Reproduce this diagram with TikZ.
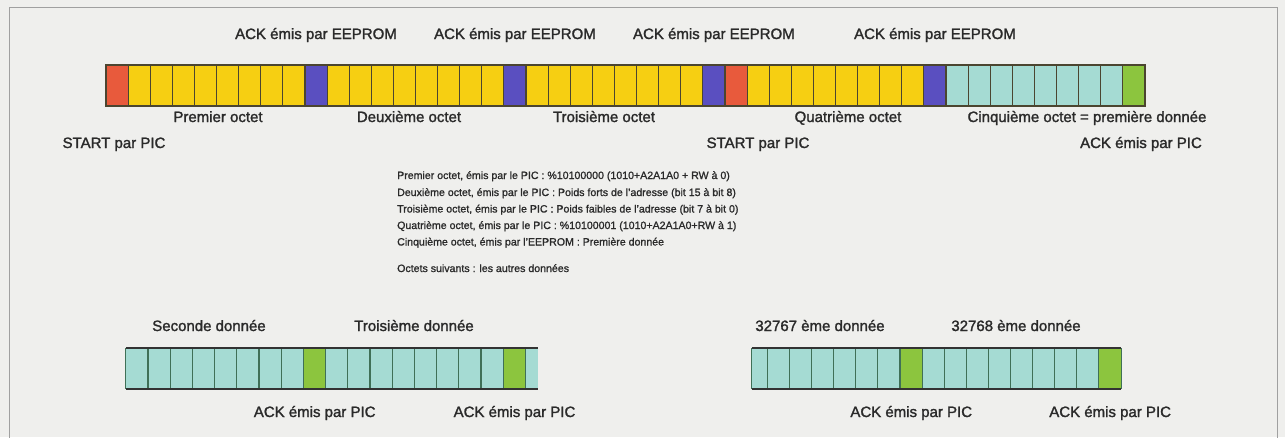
\documentclass[tikz,border=0pt]{standalone}
\usepackage{fontspec}
\setmainfont{Liberation Sans}
\newfontfamily\labfont{Liberation Sans}[FakeBold=1.6]
\newfontfamily\blkfont{Liberation Sans}[FakeBold=1.2]
\definecolor{bgc}{HTML}{EFEFED}
\definecolor{framec}{HTML}{A0A0A0}
\definecolor{txtc}{HTML}{2A2A2A}
\definecolor{cred}{HTML}{E85A3C}
\definecolor{cyel}{HTML}{F6CF12}
\definecolor{cblu}{HTML}{5A4FC0}
\definecolor{ccy}{HTML}{A5DBD3}
\definecolor{cgr}{HTML}{8CC53E}
\definecolor{edgec}{HTML}{4B4530}
\definecolor{divc}{HTML}{3F7057}
\definecolor{barc}{HTML}{333333}
\tikzset{
  cell/.style={rectangle, inner sep=0pt, minimum width=22.106pt, minimum height=41pt, draw=edgec, line width=1.1pt},
  dcell/.style={rectangle, inner sep=0pt, minimum width=22.2pt, minimum height=41pt},
  divline/.style={draw=divc, line width=1.1pt},
  barline/.style={draw=barc, line width=1.8pt},
  lab/.style={anchor=base, text=txtc, font=\labfont\fontsize{15}{18}\selectfont, inner sep=0pt},
  blk/.style={anchor=base west, text=txtc, font=\blkfont\fontsize{10.6}{13}\selectfont, inner sep=0pt},
}
\begin{document}
\begin{tikzpicture}[x=1pt,y=-1pt]
\fill[bgc] (0,0) rectangle (1285,437);
\useasboundingbox (0,0) rectangle (1285,437);
\draw[framec, line width=0.8pt] (9,440) -- (9,7) -- (1277,7) -- (1277,440);
% top bar
\foreach \c [count=\i from 0] in {cred,cyel,cyel,cyel,cyel,cyel,cyel,cyel,cyel,cblu,cyel,cyel,cyel,cyel,cyel,cyel,cyel,cyel,cblu,cyel,cyel,cyel,cyel,cyel,cyel,cyel,cyel,cblu,cred,cyel,cyel,cyel,cyel,cyel,cyel,cyel,cyel,cblu,ccy,ccy,ccy,ccy,ccy,ccy,ccy,ccy,cgr}
  \node[cell, fill=\c] (t\i) at ({106+22.106*\i+11.053},85.5) {};
% bottom left bar
\foreach \c [count=\i from 0] in {ccy,ccy,ccy,ccy,ccy,ccy,ccy,ccy,cgr,ccy,ccy,ccy,ccy,ccy,ccy,ccy,ccy,cgr}
  \node[dcell, fill=\c] (bl\i) at ({126+22.2*\i+11.1},368.5) {};
\node[dcell, fill=ccy, minimum width=12.4pt] (bl18) at (531.8,368.5) {};
\foreach \i in {0,...,18}
  \draw[divline] (bl\i.north west) -- (bl\i.south west);
\draw[barline] (bl0.north west) -- (bl18.north east);
\draw[barline] (bl0.south west) -- (bl18.south east);
% bottom right bar
\node[dcell, fill=ccy, minimum width=15.6pt] (br0) at (759.8,368.5) {};
\foreach \c [count=\i from 1] in {ccy,ccy,ccy,ccy,ccy,ccy,cgr,ccy,ccy,ccy,ccy,ccy,ccy,ccy,ccy,cgr}
  \node[dcell, minimum width=22.1pt, fill=\c] (br\i) at ({767.6+22.1*(\i-1)+11.05},368.5) {};
\foreach \i in {0,...,16}
  \draw[divline] (br\i.north west) -- (br\i.south west);
\draw[divline] (br16.north east) -- (br16.south east);
\draw[barline] (br0.north west) -- (br16.north east);
\draw[barline] (br0.south west) -- (br16.south east);
% top labels
\node[lab] (a1) at (t9.center |- 0,39) {ACK émis par EEPROM};
\node[lab] (a2) at (t18.center |- 0,39) {ACK émis par EEPROM};
\node[lab] (a3) at (t27.center |- 0,39) {ACK émis par EEPROM};
\node[lab] (a4) at (t37.center |- 0,39) {ACK émis par EEPROM};
\node[lab] (o1) at (218,122) {Premier octet};
\node[lab] (o2) at (409,122) {Deuxième octet};
\node[lab] (o3) at (604,122) {Troisième octet};
\node[lab] (o4) at (848,122) {Quatrième octet};
\node[lab] (o5) at (1087,122) {Cinquième octet = première donnée};
\node[lab] (s1) at (114,148) {START par PIC};
\node[lab] (s2) at (758,148) {START par PIC};
\node[lab] (p0) at (1141,148) {ACK émis par PIC};
% text block
\node[blk] (l1) at (397,179) {Premier octet, émis par le PIC : \%10100000 (1010+A2A1A0 + RW à 0)};
\node[blk] (l2) at (397,196) {Deuxième octet, émis par le PIC : Poids forts de l’adresse (bit 15 à bit 8)};
\node[blk] (l3) at (397,212.5) {Troisième octet, émis par le PIC : Poids faibles de l’adresse (bit 7 à bit 0)};
\node[blk] (l4) at (397,229) {Quatrième octet, émis par le PIC : \%10100001 (1010+A2A1A0+RW à 1)};
\node[blk] (l5) at (397,245.5) {Cinquième octet, émis par l’EEPROM : Première donnée};
\node[blk] (l6) at (397,272) {Octets suivants : les autres données};
% bottom labels
\node[lab] (d2) at (209,331) {Seconde donnée};
\node[lab] (d3) at (414,331) {Troisième donnée};
\node[lab] (d7) at (820,331) {32767 ème donnée};
\node[lab] (d8) at (1016,331) {32768 ème donnée};
\node[lab] (p1) at (bl8.center |- 0,417) {ACK émis par PIC};
\node[lab] (p2) at (bl17.center |- 0,417) {ACK émis par PIC};
\node[lab] (p3) at (br7.center |- 0,417) {ACK émis par PIC};
\node[lab] (p4) at (br16.center |- 0,417) {ACK émis par PIC};
\end{tikzpicture}
\end{document}
